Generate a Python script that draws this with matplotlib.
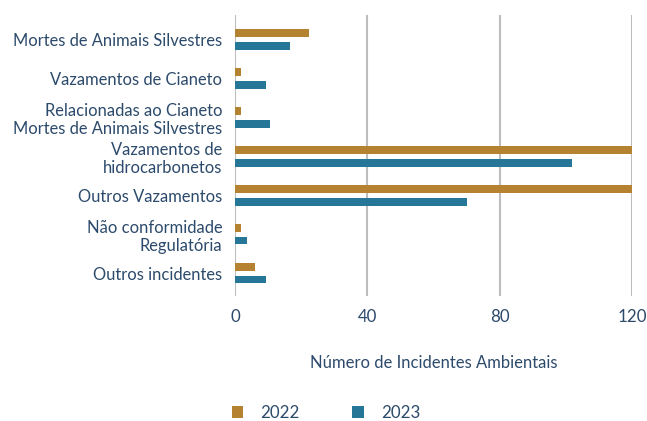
import matplotlib
matplotlib.use("Agg")
import matplotlib.pyplot as plt
import numpy as np

categories = ["Mortes de Animais Silvestres", "Vazamentos de Cianeto",
              "Relacionadas ao Cianeto\nMortes de Animais Silvestres",
              "Vazamentos de\nhidrocarbonetos", "Outros Vazamentos",
              "Não conformidade\nRegulatória", "Outros incidentes"]
v2022 = [22.5, 1.8, 1.8, 130, 130, 1.8, 6]
v2023 = [16.5, 9.5, 10.5, 102, 70, 3.5, 9.5]
xticks = [0, 40, 80, 120]

plt.rcParams['font.family'] = ['Lato', 'DejaVu Sans']
txt = '#2c4a6b'
c22 = '#b58231'
c23 = '#257697'

fig = plt.figure(figsize=(6.47, 4.21), dpi=100)
ax = fig.add_axes([235/647, 1-296/421, (632-235)/647, (296-15)/421])
y = np.arange(len(categories))
h = 0.2
ax.barh(y - 0.165, v2022, height=h, color=c22, label='2022', zorder=3)
ax.barh(y + 0.165, v2023, height=h, color=c23, label='2023', zorder=3)
ax.set_xlim(0, 120)
ax.set_ylim(6.59, -0.63)
ax.set_yticks(y)
ax.set_yticklabels(categories, fontsize=11.9, color=txt, linespacing=1.17)
ax.set_xticks(xticks)
ax.set_xticklabels([str(t) for t in xticks], fontsize=12.2, color=txt)
ax.tick_params(axis='y', length=0, pad=9)
ax.tick_params(axis='x', length=0, pad=9)
for s in ax.spines.values():
    s.set_visible(False)
ax.grid(axis='x', color='#bdbdbd', linewidth=1.5, zorder=0)
ax.grid(axis='y', visible=False)
ax.set_xlabel('Número de Incidentes Ambientais', fontsize=12, color=txt, labelpad=22)

handles, labels = ax.get_legend_handles_labels()
fig.legend(handles, labels, loc='center', bbox_to_anchor=(326/647, 1-413/421), ncol=2,
           frameon=False, fontsize=12.2, labelcolor=txt, handlelength=0.7, handleheight=0.7,
           columnspacing=3.1, handletextpad=1.0)

fig.savefig('out.png', dpi=100)
